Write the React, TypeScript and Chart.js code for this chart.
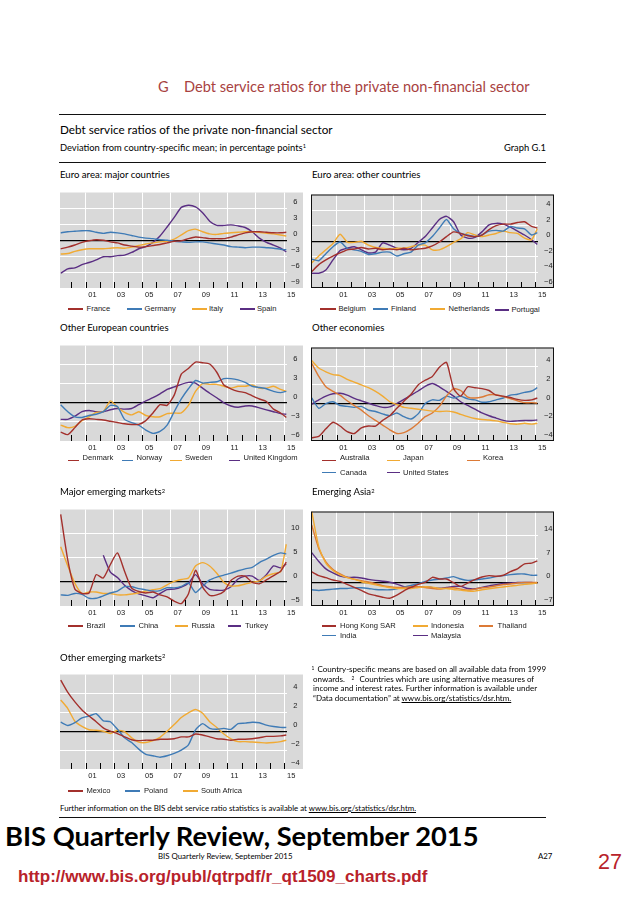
import React, { useEffect, useRef } from 'react';
import { Chart, registerables } from 'chart.js';

Chart.register(...registerables);

// ---------------- data ----------------
const DATES = [1999.25, 1999.75, 2000.25, 2000.75, 2001.25, 2001.75, 2002.25, 2002.75, 2003.25, 2003.75, 2004.25, 2004.75, 2005.25, 2005.75, 2006.25, 2006.75, 2007.25, 2007.75, 2008.25, 2008.75, 2009.25, 2009.75, 2010.25, 2010.75, 2011.25, 2011.75, 2012.25, 2012.75, 2013.25, 2013.75, 2014.25, 2014.75, 2015.15];
const YEAR_TICKS = [2000, 2001, 2002, 2003, 2004, 2005, 2006, 2007, 2008, 2009, 2010, 2011, 2012, 2013, 2014, 2015];
const YEAR_LABELS = ['', '01', '', '03', '', '05', '', '07', '', '09', '', '11', '', '13', '', '15'];

// Euro area: major countries
const FRANCE = [-1.6, -1.3, -0.9, -0.4, -0.1, 0.1, 0.0, -0.3, -0.5, -0.9, -1.1, -1.3, -1.2, -1.0, -0.8, -0.5, -0.2, -0.1, 0.3, 0.6, 0.5, 0.3, 0.3, 0.3, 0.6, 1.0, 1.4, 1.6, 1.6, 1.5, 1.4, 1.4, 1.5];
const GERMANY = [1.4, 1.6, 1.7, 1.8, 1.8, 1.5, 1.3, 1.5, 1.4, 1.2, 0.9, 0.6, 0.4, 0.3, 0.1, 0.0, -0.2, -0.3, -0.4, -0.3, -0.3, -0.5, -0.7, -0.9, -1.2, -1.3, -1.4, -1.3, -1.3, -1.4, -1.5, -1.7, -1.8];
const ITALY = [-2.6, -2.5, -2.1, -1.8, -1.6, -1.6, -1.6, -1.5, -1.4, -1.5, -1.3, -1.0, -0.7, -0.5, -0.3, -0.2, 0.2, 1.0, 1.8, 2.1, 1.6, 1.2, 1.1, 1.3, 1.4, 1.5, 1.6, 1.6, 1.5, 1.3, 1.2, 1.0, 0.8];
const SPAIN = [-6.2, -5.4, -5.2, -4.6, -4.2, -3.7, -3.1, -3.1, -2.9, -2.8, -2.3, -1.6, -1.2, -0.4, 0.8, 2.5, 4.3, 6.2, 6.6, 6.3, 5.2, 3.6, 2.8, 2.8, 2.9, 2.7, 2.4, 1.6, 0.4, -0.4, -0.9, -1.5, -2.2];

// Euro area: other countries
const BELGIUM = [-3.9, -3.0, -2.4, -1.9, -1.5, -1.1, -1.0, -0.8, -1.0, -0.9, -1.1, -1.0, -1.1, -0.9, -1.1, -1.0, -0.9, -0.6, -0.1, 0.6, 1.2, 1.0, 0.7, 0.6, 0.8, 1.5, 2.0, 2.2, 2.2, 2.4, 2.5, 1.9, 1.7];
const FINLAND = [-2.3, -2.5, -1.6, -0.7, -0.1, -0.9, -1.1, -1.3, -1.7, -1.6, -1.4, -1.4, -1.9, -1.6, -1.4, -0.5, -0.2, 0.6, 1.7, 2.8, 1.6, 1.0, 0.8, 0.6, 0.8, 1.3, 1.4, 1.3, 1.9, 1.7, 1.6, 0.8, 1.1];
const NETHERLANDS = [-2.8, -1.9, -1.1, -0.3, 0.9, -0.1, -0.15, 0.0, -0.5, -0.8, -0.9, -1.0, -0.9, -0.9, -0.7, -0.5, -0.5, -1.1, -1.1, -0.7, -0.15, 0.3, 1.1, 0.8, 0.6, 0.8, 1.0, 1.3, 1.1, 1.0, 0.4, 0.2, 1.6];
const PORTUGAL = [-4.1, -4.1, -3.7, -2.4, -1.2, -0.9, -0.7, -1.1, -1.5, -1.4, -0.2, -0.5, -0.9, -1.1, -0.9, -0.15, 0.6, 1.7, 2.8, 3.2, 2.5, 0.8, 0.4, 0.5, 1.2, 2.1, 2.3, 2.2, 1.8, 1.3, 0.8, 0.2, -0.4];

// Other European countries
const DENMARK = [-4.6, -5.0, -3.9, -2.7, -2.5, -2.6, -2.7, -2.9, -3.1, -3.3, -3.4, -3.4, -2.8, -1.6, -0.3, -0.4, 1.2, 4.5, 5.4, 6.4, 6.3, 6.1, 4.8, 2.8, 2.2, 1.8, 1.6, 1.1, 0.6, 0.2, -1.0, -1.6, -2.3];
const NORWAY = [-0.3, -1.4, -2.2, -2.3, -2.0, -1.8, -1.4, -0.4, -0.6, -2.6, -3.1, -3.5, -4.3, -4.8, -4.5, -3.5, -1.4, 0.6, 2.2, 3.5, 3.1, 3.2, 3.3, 3.8, 3.8, 3.6, 3.2, 2.6, 2.4, 2.2, 1.8, 1.6, 1.8];
const SWEDEN = [-3.5, -3.9, -3.7, -2.8, -2.2, -1.5, -1.4, 0.3, -0.7, -1.5, -1.9, -1.4, -2.0, -2.2, -2.2, -1.7, -1.6, -1.6, -0.4, 1.8, 3.0, 2.9, 2.9, 2.6, 2.3, 2.6, 2.6, 2.8, 2.3, 2.3, 2.6, 2.1, 1.8];
const UNITED_KINGDOM = [-2.6, -2.6, -2.1, -1.4, -1.2, -1.4, -1.4, -1.1, -0.9, -1.0, -0.9, -0.3, 0.3, 0.8, 1.4, 2.1, 2.5, 2.9, 3.2, 3.1, 2.3, 1.5, 0.8, 0.0, -0.5, -0.7, -0.5, -0.5, -0.8, -1.1, -1.4, -1.7, -1.8];

// Other economies
const AUSTRALIA = [-3.65, -3.5, -2.7, -2.0, -2.4, -3.0, -3.2, -2.6, -2.4, -2.4, -1.8, -1.3, -0.5, 0.25, 1.0, 2.0, 2.5, 2.9, 3.9, 4.4, 1.6, 0.8, 1.8, 1.7, 1.6, 1.4, 0.9, 0.8, 0.65, 0.45, 0.35, 0.4, 0.6];
const JAPAN = [4.6, 3.8, 3.4, 3.1, 3.0, 2.6, 2.3, 2.0, 1.7, 1.3, 0.8, 0.2, -0.1, -0.4, -0.5, -0.6, -0.7, -0.8, -0.85, -0.8, -0.9, -1.15, -1.4, -1.6, -1.7, -1.75, -1.85, -2.0, -2.15, -2.2, -2.1, -2.2, -2.1];
const KOREA = [4.3, 2.9, 1.8, 1.3, 0.9, 0.3, -0.2, -0.7, -1.3, -1.8, -2.3, -2.8, -3.2, -3.1, -2.7, -2.1, -1.4, -1.0, -0.3, 0.8, 1.6, 1.4, 0.7, 0.6, 0.7, 0.95, 0.95, 0.75, 0.55, 0.3, 0.1, 0.1, 0.05];
const CANADA = [0.6, -0.5, 0.0, 0.2, -0.2, -0.3, -0.4, -0.3, -0.7, -0.85, -1.1, -1.3, -1.0, -1.4, -1.65, -1.1, 0.0, 0.4, 0.35, 0.8, 0.6, 0.8, 0.5, 0.4, 0.15, 0.2, 0.4, 0.6, 0.9, 1.0, 1.2, 1.35, 1.7];
const UNITED_STATES = [-0.05, 0.4, 0.8, 1.05, 1.1, 0.9, 0.55, 0.3, 0.05, -0.2, -0.4, -0.35, 0.0, 0.45, 0.9, 1.35, 1.85, 2.15, 1.8, 1.3, 0.8, 0.2, -0.2, -0.6, -1.0, -1.3, -1.55, -1.8, -1.9, -1.85, -1.8, -1.8, -1.75];

// Major emerging markets
const BRAZIL = [14.0, 4.5, -1.5, -2.4, -2.3, 1.5, 0.8, 3.6, 6.0, 2.2, -1.3, -2.0, -2.3, -2.1, -2.7, -3.1, -4.0, -4.5, -2.5, 2.4, -1.1, -2.8, -2.7, -2.0, 0.3, 1.2, 1.2, -0.1, -0.4, 0.4, 1.3, 2.2, 4.1];
const CHINA = [-2.7, -2.8, -2.4, -2.6, -3.4, -3.4, -2.9, -2.3, -1.9, -1.0, -1.0, -1.4, -1.65, -1.9, -1.8, -1.2, -1.25, -0.95, -0.2, -2.2, -0.9, 0.4, 1.0, 1.4, 1.8, 2.3, 2.7, 3.0, 4.0, 4.7, 5.5, 6.0, 5.8];
const RUSSIA = [7.3, 3.3, -0.3, -2.4, -2.1, -2.1, -2.4, -2.4, -2.7, -2.7, -2.5, -2.3, -1.9, -1.6, -1.4, -0.6, 0.1, 0.5, 0.8, 3.3, 4.0, 3.3, 1.8, -0.1, -0.85, -0.8, -0.45, -0.1, 0.2, 1.2, 1.7, 2.1, 7.8];
const TURKEY = [null, null, null, null, null, null, 5.5, 2.0, 0.9, -0.7, -1.8, -2.5, -2.9, -3.3, -2.4, -1.6, -1.5, -1.1, -0.3, 1.5, -0.4, -1.55, -1.75, -1.7, -1.0, 0.6, 1.2, 1.2, 0.3, 1.5, 3.3, 2.9, 3.7];

// Emerging Asia
const HONG_KONG = [3.1, 2.0, 1.4, 0.7, 0.3, -0.6, -1.5, -2.4, -3.4, -3.9, -4.4, -4.7, -3.8, -2.5, -1.5, -0.6, 0.0, 1.5, 1.0, 1.0, -0.1, -1.2, -0.2, 0.8, 1.6, 2.0, 1.8, 2.1, 3.2, 4.0, 5.5, 5.7, 6.4];
const INDIA = [-2.2, -2.4, -2.2, -2.0, -1.8, -1.8, -1.6, -1.6, -1.8, -2.1, -2.2, -2.2, -1.9, -1.4, -0.9, -0.4, 0.3, 0.7, 0.95, 1.3, 1.7, 1.0, 0.6, 0.7, 1.0, 1.3, 1.7, 2.0, 2.3, 2.5, 2.5, 2.1, 2.1];
const INDONESIA = [21.0, 10.5, 5.7, 3.5, 2.2, 1.4, 0.9, 0.2, -0.25, -0.75, -1.2, -1.5, -1.8, -1.8, -1.8, -1.5, -1.3, -1.4, -1.8, -1.8, -2.1, -2.3, -2.55, -2.6, -2.2, -1.9, -1.6, -1.35, -1.1, -0.9, -0.6, -0.4, -0.2];
const THAILAND = [17.0, 10.0, 6.1, 3.8, 2.5, 1.5, 0.95, 0.5, 0.1, -0.4, -1.0, -1.3, -1.5, -1.5, -1.3, -1.3, -1.5, -1.8, -2.0, -1.7, -1.6, -2.0, -2.3, -2.0, -1.6, -1.4, -1.0, -0.65, -0.5, -0.2, 0.0, 0.0, 0.0];
const MALAYSIA = [8.8, 6.2, 4.0, 2.8, 1.9, 1.5, 1.5, 1.3, 0.9, 0.6, 0.35, 0.05, -0.5, -1.3, -1.5, -1.3, -1.3, -1.55, -1.75, -1.5, -1.2, -1.2, -1.8, -1.9, -1.5, -1.05, -0.7, -0.35, -0.2, 0.0, 0.0, 0.0, -0.2];

// Other emerging markets
const MEXICO = [5.4, 4.1, 3.1, 2.25, 1.6, 1.0, 0.35, 0.0, -0.25, -0.6, -0.9, -1.0, -0.95, -0.95, -0.85, -0.85, -0.8, -0.6, -0.6, -0.3, -0.4, -0.6, -0.8, -0.85, -0.95, -0.85, -0.85, -0.8, -0.7, -0.55, -0.55, -0.5, -0.4];
const POLAND = [0.95, 0.6, 0.9, 1.4, 1.6, 1.85, 1.1, 1.0, 0.2, -0.7, -1.2, -1.9, -2.45, -2.6, -2.75, -2.6, -2.35, -2.0, -1.45, 0.15, 0.8, 0.3, 0.2, 0.3, 0.2, 0.8, 0.85, 0.95, 0.9, 0.65, 0.5, 0.4, 0.4];
const SOUTH_AFRICA = [3.3, 2.4, 1.05, 0.5, 0.15, 0.1, 0.0, -0.25, 0.1, -0.05, -0.7, -1.15, -1.2, -1.0, -0.65, 0.0, 0.7, 1.45, 1.95, 2.3, 1.9, 1.0, 0.4, -0.3, -0.8, -1.1, -1.1, -1.15, -1.2, -1.25, -1.2, -1.1, -0.95];

// ---------------- style ----------------
const RED = '#a3302c';
const BLUE = '#3f7bb6';
const YELLOW = '#f1aa33';
const PURPLE = '#5a2e83';
const ORANGE = '#dc7a36';
const GRAY = '#d9d9d9';
const TXT_FONT = 'Lato';
const AXIS_FONT = 'Liberation Sans';

const measureCtx = document.createElement('canvas').getContext('2d');
function fit(text, family, weight, width) {
  measureCtx.font = `${weight} 100px "${family}"`;
  return (100 * width) / measureCtx.measureText(text).width;
}

const S_TITLE = fit('Debt service ratios for the private non-financial sector', TXT_FONT, 400, 346);
const S_SUB = fit('Debt service ratios of the private non-financial sector', TXT_FONT, 400, 273);
const S_DEV = fit('Deviation from country-specific mean; in percentage points', TXT_FONT, 400, 243);
const S_PANEL = fit('Euro area: major countries', TXT_FONT, 400, 110);
const S_NOTE = fit('Country-specific means are based on all available data from 1999', TXT_FONT, 400, 229);
const S_FURTHER = fit('Further information on the BIS debt service ratio statistics is available at www.bis.org/statistics/dsr.htm.', TXT_FONT, 400, 357);
const S_BIG = fit('BIS Quarterly Review, September 2015', TXT_FONT, 700, 475);
const S_FOOT = fit('BIS Quarterly Review, September 2015', TXT_FONT, 400, 135);
const S_URL = fit('http://www.bis.org/publ/qtrpdf/r_qt1509_charts.pdf', AXIS_FONT, 700, 410);
const S_27 = fit('27', AXIS_FONT, 400, 24);

const PANELS = [
  {
    title: 'Euro area: major countries', sup: '', tx: 60, ty: 175,
    left: 60, top: 184, h: 104, min: -9, max: 9, step: 3, border: false, yPad: 4,
    series: [
      { label: 'France', data: FRANCE, color: RED },
      { label: 'Germany', data: GERMANY, color: BLUE },
      { label: 'Italy', data: ITALY, color: YELLOW },
      { label: 'Spain', data: SPAIN, color: PURPLE },
    ],
    legend: [
      { lx: 68, lw: 15, tx: 86.5, y: 309 },
      { lx: 126.5, lw: 15, tx: 144.5, y: 309 },
      { lx: 191.5, lw: 15, tx: 209, y: 309 },
      { lx: 240, lw: 15, tx: 257, y: 309 },
    ],
  },
  {
    title: 'Euro area: other countries', sup: '', tx: 312, ty: 175,
    left: 311, top: 184, h: 104, min: -6, max: 6, step: 2, border: true, yPad: 6,
    series: [
      { label: 'Belgium', data: BELGIUM, color: RED },
      { label: 'Finland', data: FINLAND, color: BLUE },
      { label: 'Netherlands', data: NETHERLANDS, color: YELLOW },
      { label: 'Portugal', data: PORTUGAL, color: PURPLE },
    ],
    legend: [
      { lx: 320, lw: 16, tx: 338.5, y: 309 },
      { lx: 373, lw: 15, tx: 391, y: 309 },
      { lx: 430, lw: 15, tx: 448.5, y: 309 },
      { lx: 495, lw: 14, tx: 511.5, y: 310 },
    ],
  },
  {
    title: 'Other European countries', sup: '', tx: 60, ty: 328,
    left: 60, top: 337, h: 104, min: -6, max: 9, step: 3, border: false, yPad: 4,
    series: [
      { label: 'Denmark', data: DENMARK, color: RED },
      { label: 'Norway', data: NORWAY, color: BLUE },
      { label: 'Sweden', data: SWEDEN, color: YELLOW },
      { label: 'United Kingdom', data: UNITED_KINGDOM, color: PURPLE },
    ],
    legend: [
      { lx: 68, lw: 11, tx: 82.5, y: 458, dy: 2.5 },
      { lx: 122, lw: 11, tx: 136.5, y: 458, dy: 2.5 },
      { lx: 170, lw: 12, tx: 185, y: 458, dy: 2.5 },
      { lx: 229, lw: 11, tx: 243.5, y: 458, dy: 2.5 },
    ],
  },
  {
    title: 'Other economies', sup: '', tx: 312, ty: 328,
    left: 311, top: 337, h: 104, min: -4, max: 6, step: 2, border: true, yPad: 6,
    series: [
      { label: 'Australia', data: AUSTRALIA, color: RED },
      { label: 'Japan', data: JAPAN, color: YELLOW },
      { label: 'Korea', data: KOREA, color: ORANGE },
      { label: 'Canada', data: CANADA, color: BLUE },
      { label: 'United States', data: UNITED_STATES, color: PURPLE },
    ],
    legend: [
      { lx: 322, lw: 14, tx: 340, y: 458, dy: 2.5 },
      { lx: 387, lw: 13, tx: 403, y: 458, dy: 2.5 },
      { lx: 467, lw: 13, tx: 483, y: 458, dy: 2.5 },
      { lx: 322, lw: 14, tx: 340, y: 472.5 },
      { lx: 387, lw: 13, tx: 403, y: 472.5 },
    ],
  },
  {
    title: 'Major emerging markets', sup: '2', tx: 60, ty: 492.5,
    left: 60, top: 501, h: 105, min: -5, max: 15, step: 5, border: false, yPad: 4,
    series: [
      { label: 'Brazil', data: BRAZIL, color: RED },
      { label: 'China', data: CHINA, color: BLUE },
      { label: 'Russia', data: RUSSIA, color: YELLOW },
      { label: 'Turkey', data: TURKEY, color: PURPLE },
    ],
    legend: [
      { lx: 68, lw: 15, tx: 86.5, y: 626 },
      { lx: 120, lw: 15, tx: 138.5, y: 626 },
      { lx: 175, lw: 13, tx: 191.5, y: 626 },
      { lx: 228, lw: 13, tx: 245, y: 626 },
    ],
  },
  {
    title: 'Emerging Asia', sup: '2', tx: 312, ty: 492.5,
    left: 311, top: 501, h: 105, min: -7, max: 21, step: 7, border: true, yPad: 6,
    series: [
      { label: 'Hong Kong SAR', data: HONG_KONG, color: RED },
      { label: 'Indonesia', data: INDONESIA, color: YELLOW },
      { label: 'Thailand', data: THAILAND, color: ORANGE },
      { label: 'India', data: INDIA, color: BLUE },
      { label: 'Malaysia', data: MALAYSIA, color: PURPLE },
    ],
    legend: [
      { lx: 322, lw: 14, tx: 340, y: 626 },
      { lx: 413, lw: 15, tx: 431, y: 626 },
      { lx: 479, lw: 14, tx: 497.5, y: 626 },
      { lx: 322, lw: 14, tx: 340, y: 635.5 },
      { lx: 413, lw: 15, tx: 431, y: 635.5 },
    ],
  },
  {
    title: 'Other emerging markets', sup: '2', tx: 60, ty: 658,
    left: 60, top: 666, h: 103, min: -4, max: 6, step: 2, border: false, yPad: 4,
    series: [
      { label: 'Mexico', data: MEXICO, color: RED },
      { label: 'Poland', data: POLAND, color: BLUE },
      { label: 'South Africa', data: SOUTH_AFRICA, color: YELLOW },
    ],
    legend: [
      { lx: 68, lw: 15, tx: 86.5, y: 791 },
      { lx: 125, lw: 15, tx: 144, y: 791 },
      { lx: 183, lw: 15, tx: 201, y: 791 },
    ],
  },
];

const CANVAS_W = 243;
const XAXIS_H = 14;
const YAXIS_W = 16;

const panelPlugin = {
  id: 'panelBg',
  beforeDraw(chart, _args, opts) {
    const { ctx, chartArea: a, width } = chart;
    ctx.save();
    ctx.fillStyle = GRAY;
    ctx.fillRect(a.left, a.top, width - a.left, a.bottom - a.top);
    ctx.restore();
  },
  afterDraw(chart, _args, opts) {
    const { ctx, chartArea: a, width } = chart;
    const xs = chart.scales.x;
    ctx.save();
    ctx.strokeStyle = '#000';
    ctx.lineWidth = 1;
    ctx.beginPath();
    for (const t of xs.ticks) {
      const px = Math.round(xs.getPixelForValue(t.value)) + 0.5;
      ctx.moveTo(px, a.bottom);
      ctx.lineTo(px, a.bottom - 6);
    }
    ctx.stroke();
    if (opts && opts.border) {
      ctx.strokeStyle = '#111';
      ctx.strokeRect(a.left + 0.5, a.top + 0.5, width - a.left - 1, a.bottom - a.top - 1);
    }
    ctx.restore();
  },
};

function fmtY(v, max) {
  if (v === max) return '';
  if (v < 0) return '\u2212' + Math.abs(v);
  return String(v);
}

function Panel({ cfg }) {
  const ref = useRef(null);
  useEffect(() => {
    const chart = new Chart(ref.current, {
      type: 'line',
      data: {
        datasets: cfg.series.map((s) => ({
          label: s.label,
          data: DATES.map((d, i) => ({ x: d, y: s.data[i] })),
          borderColor: s.color,
          backgroundColor: s.color,
          borderWidth: 1.4,
          pointRadius: 0,
          tension: 0.2,
          spanGaps: false,
        })),
      },
      options: {
        animation: false,
        responsive: false,
        events: [],
        layout: { padding: 0 },
        plugins: {
          legend: { display: false },
          tooltip: { enabled: false },
          panelBg: { border: cfg.border },
        },
        scales: {
          x: {
            type: 'linear',
            min: 1999.2,
            max: 2015.2,
            afterBuildTicks: (s) => {
              s.ticks = YEAR_TICKS.map((v) => ({ value: v }));
            },
            afterFit: (s) => {
              s.height = XAXIS_H;
            },
            grid: {
              color: (c) => (c.tick && YEAR_LABELS[YEAR_TICKS.indexOf(c.tick.value)] ? '#ffffff' : 'rgba(0,0,0,0)'),
              lineWidth: 1,
              drawTicks: false,
            },
            border: { display: false },
            ticks: {
              autoSkip: false,
              maxRotation: 0,
              minRotation: 0,
              labelOffset: 7,
              padding: 2,
              color: '#1a1a1a',
              font: { family: AXIS_FONT, size: 7.5 },
              callback: (v) => YEAR_LABELS[YEAR_TICKS.indexOf(Number(v))] || '',
            },
          },
          y: {
            type: 'linear',
            position: 'right',
            min: cfg.min,
            max: cfg.max,
            afterFit: (s) => {
              s.width = YAXIS_W;
            },
            grid: {
              color: (c) => {
                const v = c.tick ? c.tick.value : null;
                if (v === 0) return '#000000';
                if (v === cfg.min || v === cfg.max) return 'rgba(0,0,0,0)';
                return '#ffffff';
              },
              lineWidth: (c) => (c.tick && c.tick.value === 0 ? 1.3 : 1),
              drawTicks: false,
            },
            border: { display: false },
            ticks: {
              stepSize: cfg.step,
              labelOffset: -6,
              crossAlign: 'center',
              padding: cfg.yPad,
              color: '#1a1a1a',
              font: { family: AXIS_FONT, size: 7.5 },
              callback: (v) => fmtY(Number(v), cfg.max),
            },
          },
        },
      },
      plugins: [panelPlugin],
    });
    return () => chart.destroy();
  }, []);
  const h = cfg.h + XAXIS_H;
  return (
    <canvas
      ref={ref}
      width={CANVAS_W}
      height={h}
      style={{ position: 'absolute', left: cfg.left, top: cfg.top, width: CANVAS_W, height: h }}
    />
  );
}

function Txt({ x, y, size, children, family = TXT_FONT, weight = 400, color = '#000', right = false, k = 0.66 }) {
  const style = {
    position: 'absolute',
    top: y - k * size,
    fontFamily: `"${family}"`,
    fontSize: size,
    fontWeight: weight,
    lineHeight: `${size * 1.2}px`,
    color,
    whiteSpace: 'pre',
  };
  if (right) style.right = 638 - x;
  else style.left = x;
  return <div style={style}>{children}</div>;
}

function Sup({ children }) {
  return <span style={{ fontSize: '0.6em', position: 'relative', top: '-0.45em' }}>{children}</span>;
}

function Rule({ y }) {
  return <div style={{ position: 'absolute', left: 59, top: y, width: 487, height: 1, background: '#111' }} />;
}

function Legend({ cfg }) {
  return (
    <>
      {cfg.legend.map((it, i) => (
        <React.Fragment key={i}>
          <div
            style={{
              position: 'absolute',
              left: it.lx,
              top: it.y - 0.8 + (it.dy || 0),
              width: it.lw,
              height: 1.6,
              background: cfg.series[i].color,
            }}
          />
          <div
            style={{
              position: 'absolute',
              left: it.tx,
              top: it.y - 4.8,
              fontFamily: `"${AXIS_FONT}"`,
              fontSize: 7.6,
              lineHeight: '9px',
              color: '#1a1a1a',
              whiteSpace: 'nowrap',
            }}
          >
            {cfg.series[i].label}
          </div>
        </React.Fragment>
      ))}
    </>
  );
}

export default function App() {
  return (
    <div style={{ position: 'absolute', left: 0, top: 0, width: 638, height: 903, background: '#fff', overflow: 'hidden' }}>
      <Txt x={158} y={88} size={S_TITLE} color="#a8423f">G</Txt>
      <Txt x={184} y={88} size={S_TITLE} color="#a8423f">Debt service ratios for the private non-financial sector</Txt>
      <Rule y={114} />
      <Txt x={60} y={130} size={S_SUB}>Debt service ratios of the private non-financial sector</Txt>
      <Txt x={60} y={148} size={S_DEV}>
        Deviation from country-specific mean; in percentage points<Sup>1</Sup>
      </Txt>
      <Txt x={546} y={148} size={S_DEV} right>Graph G.1</Txt>
      <Rule y={162} />

      {PANELS.map((p, i) => (
        <React.Fragment key={i}>
          <Txt x={p.tx} y={p.ty} size={S_PANEL}>
            {p.title}
            {p.sup ? <Sup>{p.sup}</Sup> : null}
          </Txt>
          <Panel cfg={p} />
          <Legend cfg={p} />
        </React.Fragment>
      ))}

      <Txt x={311.5} y={670} size={S_NOTE}><Sup>1</Sup></Txt>
      <Txt x={317.5} y={670} size={S_NOTE}>Country-specific means are based on all available data from 1999</Txt>
      <Txt x={313} y={680} size={S_NOTE}>onwards.</Txt>
      <Txt x={351.5} y={680} size={S_NOTE}><Sup>2</Sup></Txt>
      <Txt x={359.5} y={680} size={S_NOTE}>Countries which are using alternative measures of</Txt>
      <Txt x={313} y={689.5} size={S_NOTE}>income and interest rates. Further information is available under</Txt>
      <Txt x={313} y={699.5} size={S_NOTE}>
        {'\u201cData documentation\u201d at '}
        <span style={{ textDecoration: 'underline' }}>www.bis.org/statistics/dsr.htm.</span>
      </Txt>

      <Txt x={60} y={809} size={S_FURTHER}>
        {'Further information on the BIS debt service ratio statistics is available at '}
        <span style={{ textDecoration: 'underline' }}>www.bis.org/statistics/dsr.htm.</span>
      </Txt>
      <Rule y={817} />

      <Txt x={5} y={838} size={S_BIG} weight={700}>BIS Quarterly Review, September 2015</Txt>
      <Txt x={158} y={857} size={S_FOOT}>BIS Quarterly Review, September 2015</Txt>
      <Txt x={538} y={857} size={S_FOOT}>A27</Txt>
      <Txt x={598} y={862} size={S_27} family={AXIS_FONT} color="#b8222a" k={0.6}>27</Txt>
      <Txt x={18} y={878} size={S_URL} family={AXIS_FONT} weight={700} color="#b8222a" k={0.62}>
        http://www.bis.org/publ/qtrpdf/r_qt1509_charts.pdf
      </Txt>
    </div>
  );
}
